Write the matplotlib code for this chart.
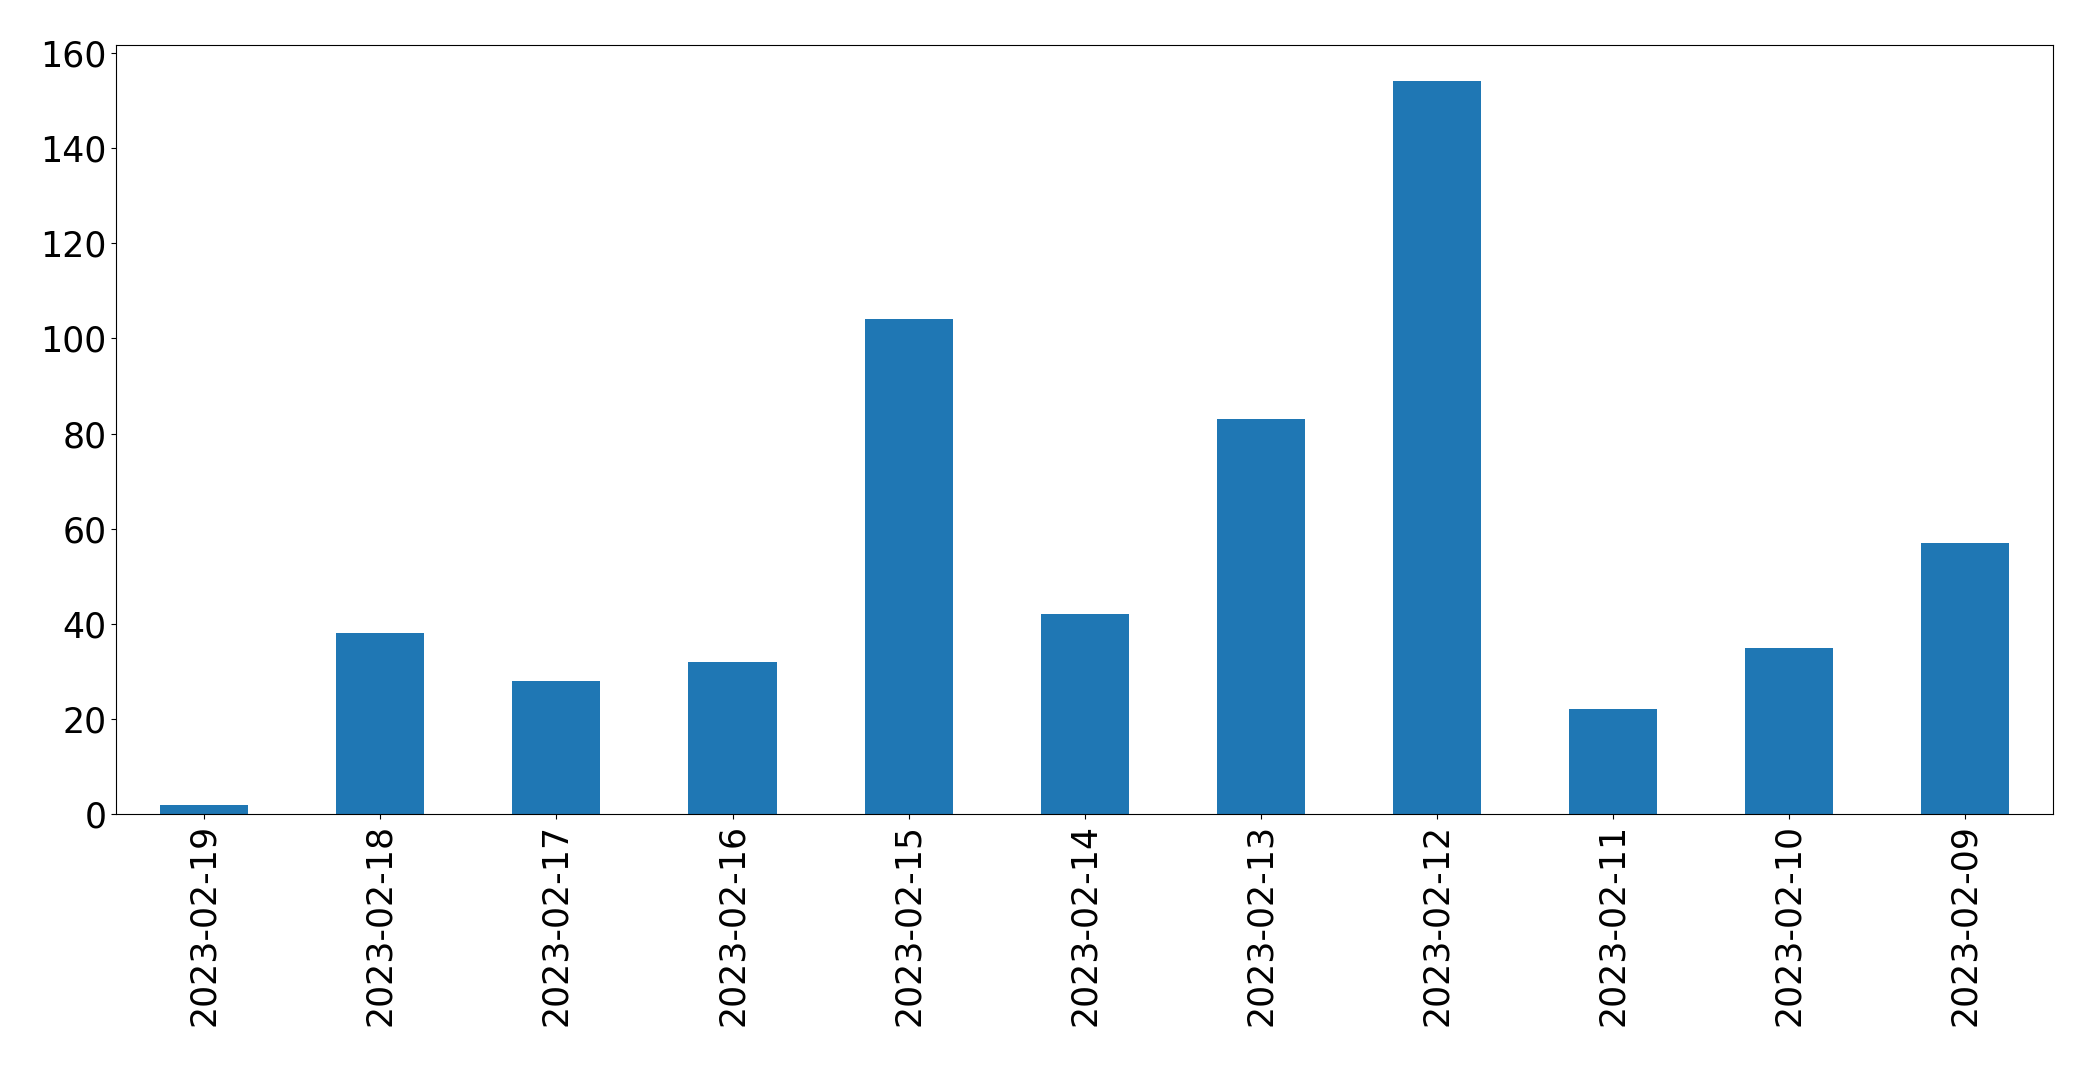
import pandas as pd
import matplotlib
matplotlib.use("Agg")
import matplotlib.pyplot as plt

dates = ['2023-02-19', '2023-02-18', '2023-02-17', '2023-02-16', '2023-02-15',
         '2023-02-14', '2023-02-13', '2023-02-12', '2023-02-11', '2023-02-10',
         '2023-02-09']
counts = [2, 38, 28, 32, 104, 42, 83, 154, 22, 35, 57]

s = pd.Series(counts, index=dates)

fig = plt.figure(figsize=(20.93, 10.67), dpi=100)
ax = s.plot(kind='bar', color='#1f77b4', fontsize=25)
plt.subplots_adjust(left=0.0555, right=0.981, top=0.958, bottom=0.237)
plt.savefig('out.png', dpi=100)
